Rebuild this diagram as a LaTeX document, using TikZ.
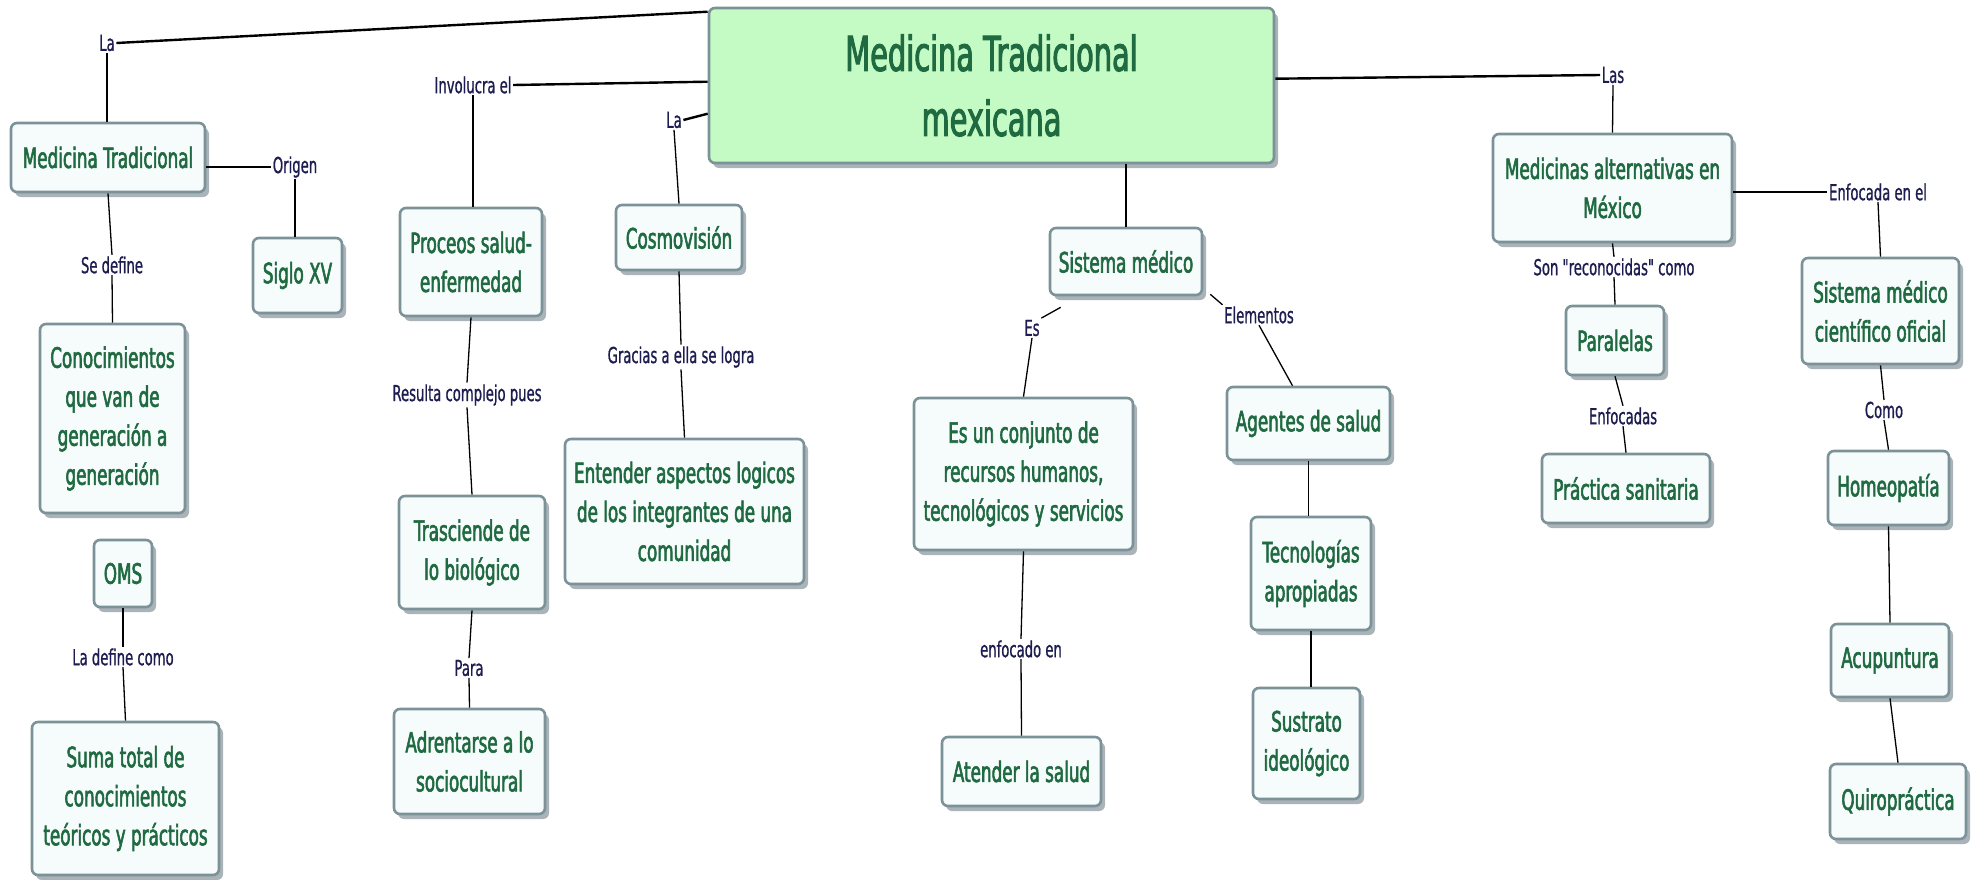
\documentclass[tikz,border=0pt]{standalone}
\usepackage{fontspec}
\setmainfont[FakeStretch=0.6]{DejaVu Sans}
\newfontfamily\nodefam[FakeStretch=0.6,FakeBold=2]{DejaVu Sans}
\newfontfamily\lblfam[FakeStretch=0.6,FakeBold=0.8]{DejaVu Sans}
\usetikzlibrary{shadows,calc}
\definecolor{bordercol}{HTML}{7C9299}
\definecolor{shadowcol}{HTML}{A9B3B8}
\definecolor{nodefill}{HTML}{F6FBFC}
\definecolor{centralfill}{HTML}{C4FAC4}
\definecolor{nodetext}{HTML}{1F6A40}
\definecolor{lblcol}{HTML}{1C1C50}
\newcommand\nodefont{\nodefam\fontsize{28}{39}\selectfont}
\newcommand\bigfont{\nodefam\fontsize{48}{65}\selectfont}
\newcommand\lblfont{\lblfam\fontsize{22}{26}\selectfont}
\tikzset{
  concept/.style={draw=bordercol, line width=2.6pt, rounded corners=6pt, fill=nodefill,
    text=nodetext, align=center, inner sep=0pt, font=\nodefont,
    drop shadow={shadow xshift=4pt, shadow yshift=-5pt, fill=shadowcol, opacity=1}},
  centralbox/.style={concept, fill=centralfill, font=\bigfont},
  lbl/.style={text=lblcol, font=\lblfont, fill=white, inner sep=1.5pt},
  link/.style={line width=1.3pt, black},
  mainlink/.style={line width=2.4pt, black}
}
\begin{document}
\begin{tikzpicture}[x=1pt,y=-1pt]
\useasboundingbox (0,0) rectangle (1979,879);
% concepts
\node[centralbox, minimum width=565pt, minimum height=155pt] (central) at (991.5,85.5) {Medicina Tradicional\\mexicana};
\node[concept, minimum width=194pt, minimum height=69pt] (mt) at (108,157.5) {Medicina Tradicional};
\node[concept, minimum width=89pt, minimum height=75pt] (siglo) at (297.5,275.5) {Siglo XV};
\node[concept, minimum width=145pt, minimum height=189pt] (conoc) at (112.5,418.5) {Conocimientos\\que van de\\generación a\\generación};
\node[concept, minimum width=58pt, minimum height=67pt] (oms) at (123,573.5) {OMS};
\node[concept, minimum width=187pt, minimum height=153pt] (suma) at (125.5,798.5) {Suma total de\\conocimientos\\teóricos y prácticos};
\node[concept, minimum width=142pt, minimum height=108pt] (proceos) at (471,262) {Proceos salud-\\enfermedad};
\node[concept, minimum width=146pt, minimum height=113pt] (trasc) at (472,552.5) {Trasciende de\\lo biológico};
\node[concept, minimum width=151pt, minimum height=105pt] (adrent) at (469.5,761.5) {Adrentarse a lo\\sociocultural};
\node[concept, minimum width=126pt, minimum height=65pt] (cosmo) at (679,237.5) {Cosmovisión};
\node[concept, minimum width=239pt, minimum height=145pt] (entender) at (684.5,511.5) {Entender aspectos logicos\\de los integrantes de una\\comunidad};
\node[concept, minimum width=152pt, minimum height=67pt] (sistema) at (1126,261.5) {Sistema médico};
\node[concept, minimum width=219pt, minimum height=152pt] (conjunto) at (1023.5,474) {Es un conjunto de\\recursos humanos,\\tecnológicos y servicios};
\node[concept, minimum width=159pt, minimum height=69pt] (atender) at (1021.5,771.5) {Atender la salud};
\node[concept, minimum width=163pt, minimum height=73pt] (agentes) at (1308.5,423.5) {Agentes de salud};
\node[concept, minimum width=120pt, minimum height=113pt] (tecno) at (1311,573.5) {Tecnologías\\apropiadas};
\node[concept, minimum width=107pt, minimum height=111pt] (sustrato) at (1306.5,743.5) {Sustrato\\ideológico};
\node[concept, minimum width=239pt, minimum height=108pt] (mam) at (1612.5,188) {Medicinas alternativas en\\México};
\node[concept, minimum width=157pt, minimum height=106pt] (smco) at (1880.5,311) {Sistema médico\\científico oficial};
\node[concept, minimum width=98pt, minimum height=69pt] (paralelas) at (1615,340.5) {Paralelas};
\node[concept, minimum width=168pt, minimum height=69pt] (practica) at (1626,488.5) {Práctica sanitaria};
\node[concept, minimum width=121pt, minimum height=74pt] (homeo) at (1888.5,488) {Homeopatía};
\node[concept, minimum width=118pt, minimum height=73pt] (acu) at (1890,660.5) {Acupuntura};
\node[concept, minimum width=136pt, minimum height=75pt] (quiro) at (1898,801.5) {Quiropráctica};
% labels
\node[lbl] (la1) at (107,43) {La};
\node[lbl] (invol) at (473,85) {Involucra el};
\node[lbl] (la2) at (674,120) {La};
\node[lbl] (origen) at (295,167) {Origen};
\node[lbl] (sedef) at (112,265) {Se define};
\node[lbl] (ladef) at (123,657) {La define como};
\node[lbl] (resulta) at (467,395) {Resulta complejo pues};
\node[lbl] (para) at (469,668) {Para};
\node[lbl] (gracias) at (681,357) {Gracias a ella se logra};
\node[lbl] (es) at (1032,328) {Es};
\node[lbl] (elem) at (1259,315) {Elementos};
\node[lbl] (enfoc) at (1021,649) {enfocado en};
\node[lbl] (las) at (1613,75) {Las};
\node[lbl] (son) at (1614,267) {Son "reconocidas" como};
\node[lbl] (enfocada) at (1878,192) {Enfocada en el};
\node[lbl] (enfocadas) at (1623,416) {Enfocadas};
\node[lbl] (como) at (1884,410) {Como};
% connectors
\draw[mainlink] (la1.east) -- ($(central.north west)+(0,5)$);
\draw[link] (la1.south) -- (mt.north -| la1.south);
\draw[mainlink] (invol.east) -- ($(central.north west)+(0,75)$);
\draw[link] (invol.south) -- (proceos.north -| invol.south);
\draw[mainlink] (la2.east) -- ($(central.north west)+(0,107)$);
\draw[link] (la2.south) -- (cosmo.north);
\draw[mainlink] ($(central.north east)+(0,72)$) -- (las.west);
\draw[link] (las.south) -- (mam.north);
\draw[link] (sistema.north |- central.south) -- (sistema.north);
\draw[mainlink] (mt.east |- origen.west) -- (origen.west);
\draw[link] (origen.south) -- (siglo.north -| origen.south);
\draw[link] (mt.south) -- (sedef.north);
\draw[link] (sedef.south) -- (conoc.north);
\draw[link] (oms.south) -- (ladef.north);
\draw[link] (ladef.south) -- (suma.north);
\draw[link] (proceos.south) -- (resulta.north);
\draw[link] (resulta.south) -- (trasc.north);
\draw[link] (trasc.south) -- (para.north);
\draw[link] (para.south) -- (adrent.north);
\draw[link] (cosmo.south) -- (gracias.north);
\draw[link] (gracias.south) -- (entender.north);
\draw[link] ($(sistema.south west)+(12,11)$) -- (es.north east);
\draw[link] (es.south) -- (conjunto.north);
\draw[link] ($(sistema.south east)+(7,-2)$) -- (elem.north west);
\draw[link] (elem.south) -- ($(agentes.north)+(-16,0)$);
\draw[link] (conjunto.south) -- (enfoc.north);
\draw[link] (enfoc.south) -- (atender.north);
\draw[link] (agentes.south) -- (tecno.north -| agentes.south);
\draw[link] (tecno.south) -- (sustrato.north -| tecno.south);
\draw[mainlink] (mam.east |- enfocada.west) -- (enfocada.west);
\draw[link] (enfocada.south) -- (smco.north);
\draw[link] (mam.south) -- (son.north);
\draw[link] (son.south) -- (paralelas.north);
\draw[link] (paralelas.south) -- (enfocadas.north);
\draw[link] (enfocadas.south) -- (practica.north);
\draw[link] (smco.south) -- (como.north);
\draw[link] (como.south) -- (homeo.north);
\draw[link] (homeo.south) -- (acu.north);
\draw[link] (acu.south) -- (quiro.north);
\end{tikzpicture}
\end{document}
